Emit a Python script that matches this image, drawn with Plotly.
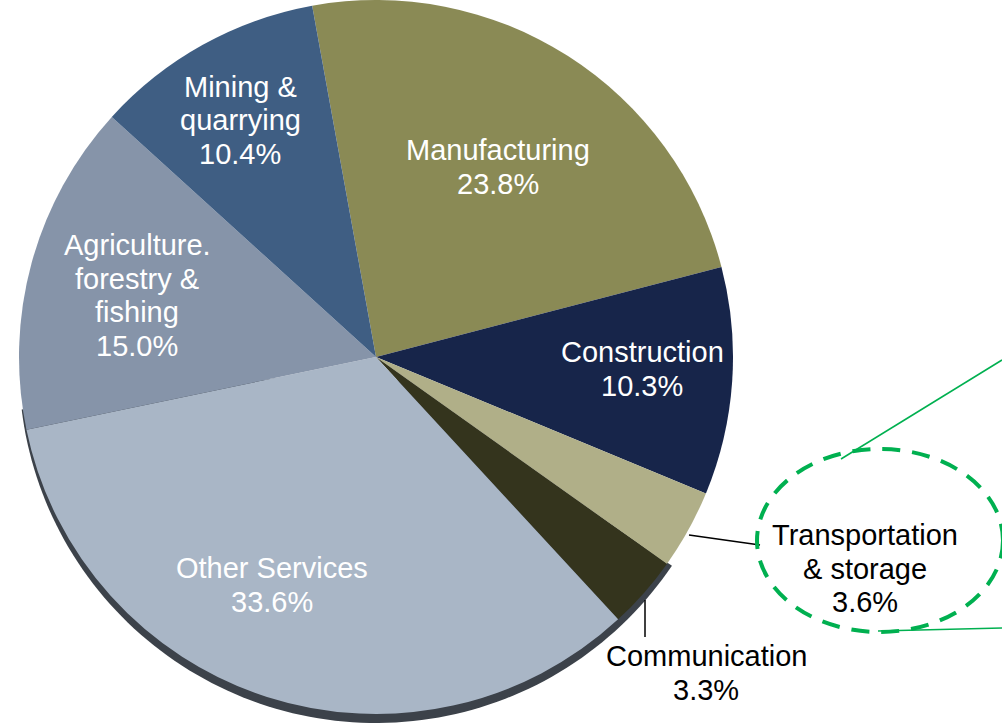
import math
import plotly.graph_objects as go

# ---- data ----
categories = ["Manufacturing", "Construction", "Transportation<br>& storage", "Communication",
              "Other Services", "Agriculture.<br>forestry &<br>fishing", "Mining &<br>quarrying"]
shares = [23.8, 10.3, 3.6, 3.3, 33.6, 15.0, 10.4]
colors = ["#8a8a55", "#17254a", "#b0af88", "#34341d", "#a9b6c6", "#8694a9", "#3f5e83"]

# ---- layout constants ----
W, H = 1002, 723
CX, CY, R = 376, 357, 357
FONT = "Liberation Sans, Arial, sans-serif"
FS = 29
LS = 33.5  # line spacing in px

# label anchor (center x, baseline of first line, text colour)
label_pos = [(498, 160, "white"), (642, 362, "white"), (865, 545, "black"),
             (706, 666, "black"), (272, 578, "white"), (137, 255, "white"),
             (240, 97, "white")]


def px(x):
    return x / W


def py(y):
    return 1 - y / H


fig = go.Figure(go.Pie(
    labels=[c.replace("<br>", " ") for c in categories],
    values=shares,
    sort=False,
    direction="clockwise",
    rotation=-10.3,
    marker=dict(colors=colors, line=dict(width=0)),
    textinfo="none",
    hoverinfo="label+percent",
    showlegend=False,
    domain=dict(x=[px(CX - R), px(CX + R)], y=[py(CY + R), py(CY - R)]),
))

annotations = []
for cat, val, (lx, ly, col) in zip(categories, shares, label_pos):
    lines = cat.split("<br>") + [f"{val:.1f}%"]
    for i, t in enumerate(lines):
        annotations.append(dict(
            x=px(lx), y=py(ly + i * LS - 10), xref="paper", yref="paper",
            text=t, showarrow=False, xanchor="center", yanchor="middle",
            font=dict(family=FONT, size=FS, color=col)))

# 3D rim under the lower-left part of the pie
d = 9
pts = []
for k in range(0, 101):
    a = math.radians(124 + (263 - 124) * k / 100)
    pts.append((CX + R * math.sin(a), CY + d - R * math.cos(a)))
path = f"M {px(CX)},{py(CY + d)} " + " ".join(f"L {px(x)},{py(y)}" for x, y in pts) + " Z"

green = "#00b050"
shapes = [
    dict(type="path", path=path, xref="paper", yref="paper", layer="below",
         fillcolor="#3c424a", line=dict(width=0)),
    # leader lines
    dict(type="line", xref="paper", yref="paper", x0=px(689), y0=py(535), x1=px(760), y1=py(545),
         line=dict(color="black", width=1.5)),
    dict(type="line", xref="paper", yref="paper", x0=px(645), y0=py(600), x1=px(645), y1=py(637),
         line=dict(color="black", width=1.5)),
    # green dashed ellipse
    dict(type="circle", xref="paper", yref="paper", x0=px(757), y0=py(449), x1=px(1003), y1=py(632),
         line=dict(color=green, width=4, dash="18px,12px")),
    # green callout lines
    dict(type="line", xref="paper", yref="paper", x0=px(841), y0=py(459), x1=px(1002), y1=py(360),
         line=dict(color=green, width=1.5)),
    dict(type="line", xref="paper", yref="paper", x0=px(878), y0=py(631), x1=px(1002), y1=py(628),
         line=dict(color=green, width=1.5)),
]

fig.update_layout(
    width=W, height=H,
    margin=dict(l=0, r=0, t=0, b=0),
    paper_bgcolor="white", plot_bgcolor="white",
    annotations=annotations, shapes=shapes,
)

fig.write_html("out.html",
               config={"displayModeBar": False},
               post_script="document.body.style.margin='0';document.body.style.overflow='hidden';")
